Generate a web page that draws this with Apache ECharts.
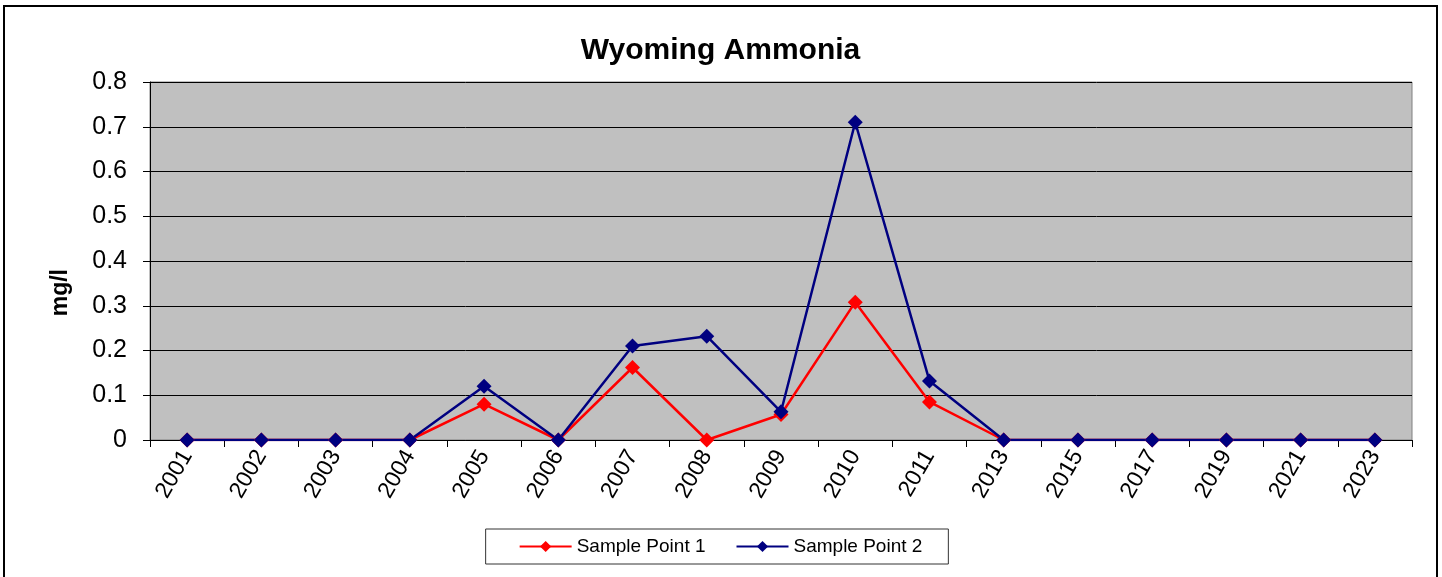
<!DOCTYPE html>
<html>
<head>
<meta charset="utf-8">
<script src="https://cdn.jsdelivr.net/npm/echarts@6/dist/echarts.min.js"></script>
<style>
  html, body { margin: 0; padding: 0; background: #fff; }
  #chart { position: absolute; left: 3px; top: 5px; width: 1435px; height: 580px;
           border: 2px solid #000; box-sizing: border-box; }
</style>
</head>
<body>
<div id="chart"></div>
<script>
var years = ['2001','2002','2003','2004','2005','2006','2007','2008','2009','2010','2011','2013','2015','2017','2019','2021','2023'];
var point1 = [0, 0, 0, 0, 0.08, 0, 0.162, 0, 0.057, 0.308, 0.085, 0, 0, 0, 0, 0, 0];
var point2 = [0, 0, 0, 0, 0.12, 0, 0.21, 0.232, 0.063, 0.71, 0.132, 0, 0, 0, 0, 0, 0];

var chart = echarts.init(document.getElementById('chart'));
var option = {
    animation: false,
    title: {
        text: 'Wyoming Ammonia',
        left: 'center',
        top: 24,
        textStyle: { fontFamily: 'Liberation Sans', fontSize: 30, fontWeight: 'bold', color: '#000' }
    },
    graphic: [{
        type: 'text',
        left: 44,
        top: 262,
        rotation: Math.PI / 2,
        style: { text: 'mg/l', font: 'bold 23px "Liberation Sans"', fill: '#000' }
    }],
    grid: {
        left: 145, right: 24, top: 75, bottom: 143,
        show: true,
        backgroundColor: '#c0c0c0',
        borderColor: '#808080',
        borderWidth: 1
    },
    legend: {
        bottom: 19,
        left: 'center',
        itemWidth: 52,
        itemHeight: 14,
        itemGap: 30,
        padding: [8, 26, 8, 33],
        borderColor: '#333',
        borderWidth: 1,
        textStyle: { fontFamily: 'Liberation Sans', fontSize: 19, color: '#000' },
        data: ['Sample Point 1', 'Sample Point 2']
    },
    xAxis: {
        type: 'category',
        data: years,
        boundaryGap: true,
        axisLine: { lineStyle: { color: '#000', width: 1 } },
        axisTick: { show: true, length: 7, lineStyle: { color: '#000' } },
        axisLabel: { rotate: 60, margin: 12, fontFamily: 'Liberation Sans', fontSize: 23, color: '#000' }
    },
    yAxis: {
        type: 'value',
        min: 0, max: 0.8, interval: 0.1,
        axisLine: { show: true, lineStyle: { color: '#000' } },
        axisTick: { show: true, length: 7, lineStyle: { color: '#000' } },
        axisLabel: { margin: 23, fontFamily: 'Liberation Sans', fontSize: 25, color: '#000' },
        splitLine: { lineStyle: { color: '#000', width: 1 } }
    },
    series: [{
        name: 'Sample Point 1',
        type: 'line',
        data: point1,
        symbol: 'diamond',
        symbolSize: 15,
        lineStyle: { color: '#ff0000', width: 2.5 },
        itemStyle: { color: '#ff0000' }
    }, {
        name: 'Sample Point 2',
        type: 'line',
        data: point2,
        symbol: 'diamond',
        symbolSize: 15,
        lineStyle: { color: '#000080', width: 2.5 },
        itemStyle: { color: '#000080' }
    }]
};
chart.setOption(option);
</script>
</body>
</html>
